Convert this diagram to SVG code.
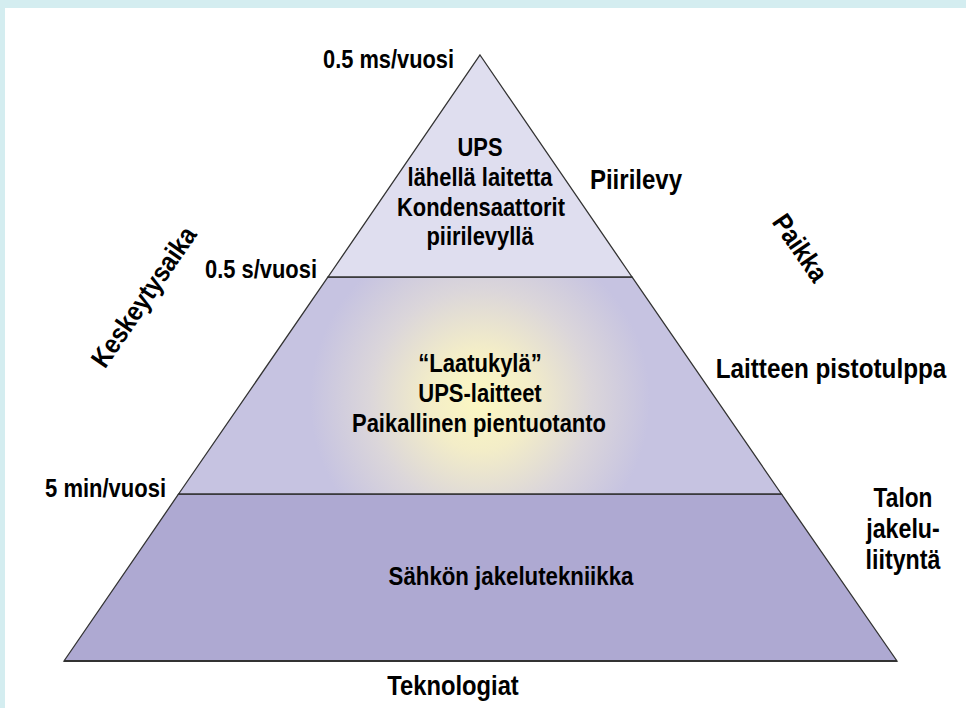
<svg xmlns="http://www.w3.org/2000/svg" width="966" height="708" viewBox="0 0 966 708">
<defs>
<radialGradient id="glow" gradientUnits="userSpaceOnUse" cx="480" cy="400" r="170">
<stop offset="0" stop-color="#fcf8c2"/>
<stop offset="0.3" stop-color="#f3edc8"/>
<stop offset="0.65" stop-color="#dbd6da"/>
<stop offset="1" stop-color="#c6c3e1"/>
</radialGradient>
<style>
.tier{stroke:#333;stroke-width:1.3;stroke-linejoin:miter}
.t{font-family:"Liberation Sans",Arial,sans-serif;font-weight:bold;fill:#000;text-anchor:middle}
.r{text-anchor:end}
.s25{font-size:25px}
.s27{font-size:27px}
</style>
</defs>
<rect x="0" y="0" width="966" height="708" fill="#fff"/>
<rect x="0" y="0" width="966" height="8" fill="#d4edf0"/>
<rect x="0" y="0" width="5" height="708" fill="#d4edf0"/>

<g id="tier-bottom">
<polygon class="tier" points="178.6,494 781.4,494 897,661 64,661" fill="#aea9d2"/>
<line x1="64" y1="661" x2="897" y2="661" stroke="#333" stroke-width="2"/>
<text class="t s25" transform="translate(511,585) scale(0.89,1)">Sähkön jakelutekniikka</text>
</g>
<g id="tier-middle">
<polygon class="tier" points="328,277 632,277 781.4,494 178.6,494" fill="url(#glow)"/>
<text class="t s25" transform="translate(480,372) scale(0.88,1)">“Laatukylä”</text>
<text class="t s25" transform="translate(480,402) scale(0.88,1)">UPS-laitteet</text>
<text class="t s25" transform="translate(479,432) scale(0.88,1)">Paikallinen pientuotanto</text>
</g>
<g id="tier-top">
<polygon class="tier" points="480,55 632,277 328,277" fill="#dfdeef"/>
<text class="t s25" transform="translate(480,156) scale(0.876,1)">UPS</text>
<text class="t s25" transform="translate(480,186) scale(0.876,1)">lähellä laitetta</text>
<text class="t s25" transform="translate(481,216) scale(0.876,1)">Kondensaattorit</text>
<text class="t s25" transform="translate(480,245) scale(0.876,1)">piirilevyllä</text>
</g>

<g id="time-labels">
<text class="t r s25" transform="translate(454,68) scale(0.873,1)">0.5 ms/vuosi</text>
<text class="t r s25" transform="translate(317,278) scale(0.876,1)">0.5 s/vuosi</text>
<text class="t r s25" transform="translate(166,497) scale(0.88,1)">5 min/vuosi</text>
<text class="t s27" transform="translate(144,297) rotate(-55.5) scale(0.88,1)" y="9">Keskeytysaika</text>
</g>

<g id="place-labels">
<text class="t s27" transform="translate(636,189) scale(0.89,1)">Piirilevy</text>
<text class="t s27" transform="translate(800,248) rotate(55.5) scale(0.88,1)" y="9">Paikka</text>
<text class="t s27" transform="translate(831,378) scale(0.9,1)">Laitteen pistotulppa</text>
<text class="t s27" transform="translate(903,507) scale(0.84,1)">Talon</text>
<text class="t s27" transform="translate(903,538) scale(0.86,1)">jakelu-</text>
<text class="t s27" transform="translate(903,569) scale(0.86,1)">liityntä</text>
</g>

<g id="axis-label">
<text class="t s27" transform="translate(453,695) scale(0.88,1)">Teknologiat</text>
</g>
</svg>
